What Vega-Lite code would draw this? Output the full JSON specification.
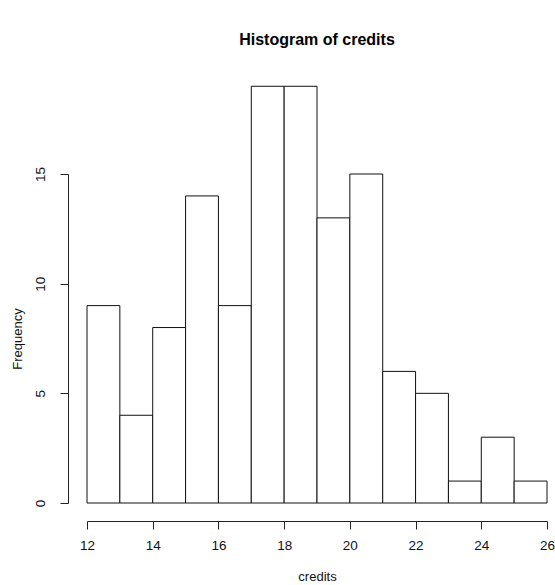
{
  "$schema": "https://vega.github.io/schema/vega-lite/v6.json",
  "autosize": {"type": "none"},
  "padding": {"left": 87, "top": 174, "right": 8, "bottom": 82},
  "width": 460,
  "height": 329,
  "background": "white",
  "config": {
    "view": {"stroke": null},
    "font": "Liberation Sans",
    "axis": {
      "grid": false,
      "domainColor": "#222",
      "tickColor": "#222",
      "labelColor": "#111",
      "titleColor": "#111",
      "labelFont": "Liberation Sans",
      "titleFont": "Liberation Sans",
      "labelFontSize": 13.5,
      "titleFontSize": 13,
      "titleFontWeight": "normal",
      "labelFlush": false,
      "labelOverlap": false,
      "tickSize": 8,
      "domainWidth": 1,
      "tickWidth": 1
    }
  },
  "title": {
    "text": "Histogram of credits",
    "font": "Liberation Sans",
    "fontSize": 16,
    "fontWeight": "bold",
    "color": "#000",
    "anchor": "middle",
    "offset": 38
  },
  "data": {
    "values": [
      {"bin_start": 12, "bin_end": 13, "count": 9},
      {"bin_start": 13, "bin_end": 14, "count": 4},
      {"bin_start": 14, "bin_end": 15, "count": 8},
      {"bin_start": 15, "bin_end": 16, "count": 14},
      {"bin_start": 16, "bin_end": 17, "count": 9},
      {"bin_start": 17, "bin_end": 18, "count": 19},
      {"bin_start": 18, "bin_end": 19, "count": 19},
      {"bin_start": 19, "bin_end": 20, "count": 13},
      {"bin_start": 20, "bin_end": 21, "count": 15},
      {"bin_start": 21, "bin_end": 22, "count": 6},
      {"bin_start": 22, "bin_end": 23, "count": 5},
      {"bin_start": 23, "bin_end": 24, "count": 1},
      {"bin_start": 24, "bin_end": 25, "count": 3},
      {"bin_start": 25, "bin_end": 26, "count": 1}
    ]
  },
  "mark": {"type": "rect", "fill": "white", "stroke": "#111", "strokeWidth": 1, "clip": false},
  "encoding": {
    "x": {
      "field": "bin_start",
      "type": "quantitative",
      "scale": {"domain": [12, 26], "nice": false, "zero": false},
      "axis": {
        "title": "credits",
        "values": [12, 14, 16, 18, 20, 22, 24, 26],
        "offset": 18,
        "labelPadding": 9,
        "titlePadding": 19
      }
    },
    "x2": {"field": "bin_end"},
    "y": {
      "field": "count",
      "type": "quantitative",
      "scale": {"domain": [0, 15], "nice": false, "clamp": false},
      "axis": {
        "title": "Frequency",
        "values": [0, 5, 10, 15],
        "offset": 19,
        "labelAngle": -90,
        "labelAlign": "center",
        "labelBaseline": "bottom",
        "labelPadding": 13,
        "titlePadding": 9
      }
    },
    "y2": {"datum": 0}
  }
}
